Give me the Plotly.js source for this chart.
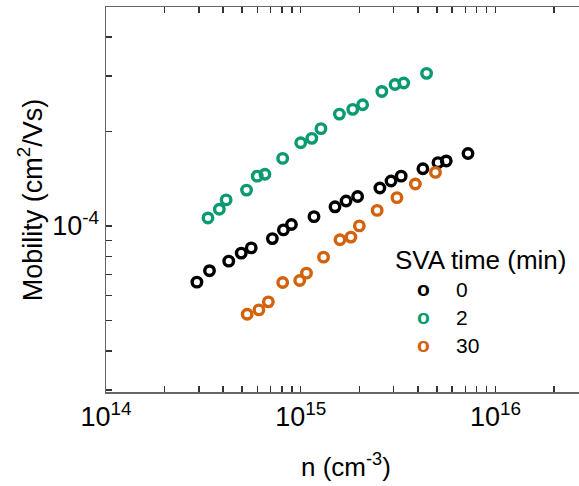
<!DOCTYPE html>
<html>
<head>
<meta charset="utf-8">
<script src="https://cdn.plot.ly/plotly-3.0.1.min.js"></script>
<style>
html,body{margin:0;padding:0;overflow:hidden;background:#fff;}
#chart{width:586px;height:486px;}
</style>
</head>
<body>
<div id="chart"></div>
<script>
// Data (n in cm^-3, mobility in cm^2/Vs)
const n_0   = [2.93e14,3.40e14,4.27e14,4.95e14,5.57e14,7.15e14,8.15e14,8.96e14,1.17e15,1.50e15,1.71e15,1.96e15,2.55e15,2.91e15,3.28e15,4.24e15,5.07e15,5.59e15,7.23e15];
const mu_0  = [6.62e-5,7.20e-5,7.72e-5,8.19e-5,8.51e-5,9.11e-5,9.71e-5,1.01e-4,1.07e-4,1.15e-4,1.20e-4,1.24e-4,1.32e-4,1.39e-4,1.44e-4,1.52e-4,1.59e-4,1.61e-4,1.70e-4];
const n_2   = [3.34e14,3.82e14,4.14e14,5.27e14,5.98e14,6.55e14,8.08e14,1.00e15,1.14e15,1.27e15,1.58e15,1.85e15,2.08e15,2.61e15,3.05e15,3.38e15,4.43e15];
const mu_2  = [1.06e-4,1.13e-4,1.21e-4,1.30e-4,1.44e-4,1.46e-4,1.64e-4,1.84e-4,1.90e-4,2.04e-4,2.27e-4,2.35e-4,2.43e-4,2.68e-4,2.82e-4,2.85e-4,3.06e-4];
const n_30  = [5.31e14,6.10e14,6.82e14,8.08e14,9.88e14,1.07e15,1.31e15,1.59e15,1.81e15,2.00e15,2.47e15,3.12e15,3.88e15,4.92e15];
const mu_30 = [5.23e-5,5.40e-5,5.73e-5,6.60e-5,6.70e-5,7.07e-5,7.95e-5,9.03e-5,9.21e-5,1.00e-4,1.12e-4,1.23e-4,1.36e-4,1.48e-4];
const seriesNames = ['0','2','30'];
const legendTitle = 'SVA time (min)';
const xTitle = 'n (cm<sup>-3</sup>)';
const yTitle = 'Mobility (cm<sup>2</sup>/Vs)';
// tick positions: decades labelled, intermediate ticks unlabelled
const xTickVals = [1e14,2e14,3e14,4e14,5e14,6e14,7e14,8e14,9e14,1e15,2e15,3e15,4e15,5e15,6e15,7e15,8e15,9e15,1e16,2e16,3e16];
const xTickText = ['10<sup>14</sup>','','','','','','','','','10<sup>15</sup>','','','','','','','','','10<sup>16</sup>','',''];
const yTickVals = [3e-5,4e-5,5e-5,6e-5,7e-5,8e-5,9e-5,1e-4,2e-4,3e-4,4e-4];
const yTickText = ['','','','','','','','10<sup>-4</sup>','','',''];

const colors = ['#000000','#0a9a72','#d2620c'];
const FONT = 'Arial, "Liberation Sans", sans-serif';
const xs = [n_0,n_2,n_30], ys = [mu_0,mu_2,mu_30];
const traces = xs.map((x,i)=>({
  x:x, y:ys[i], type:'scatter', mode:'markers', name:seriesNames[i],
  marker:{symbol:'circle-open', size:9.5, color:colors[i], line:{width:3.4, color:colors[i]}}
}));

const legendRows = [0.27, 0.197, 0.124];
const annotations = [
  {text:xTitle, xref:'paper', yref:'paper', x:0.5, y:-0.19, xanchor:'center', yanchor:'middle', showarrow:false,
   font:{family:FONT, size:26, color:'#000'}},
  {text:yTitle, xref:'paper', yref:'paper', x:-0.159, y:0.5, xanchor:'center', yanchor:'middle', textangle:-90, showarrow:false,
   font:{family:FONT, size:27, color:'#000'}},
  {text:legendTitle, xref:'paper', yref:'paper', x:0.6, y:0.343, xanchor:'left', yanchor:'middle', showarrow:false,
   font:{family:FONT, size:26, color:'#000'}}
];
seriesNames.forEach((nm,i)=>{
  annotations.push({text:'<b>o</b>', xref:'paper', yref:'paper', x:0.662, y:legendRows[i], xanchor:'center', yanchor:'middle',
    showarrow:false, font:{family:FONT, size:21, color:colors[i]}});
  annotations.push({text:nm, xref:'paper', yref:'paper', x:0.726, y:legendRows[i]-0.004, xanchor:'left', yanchor:'middle',
    showarrow:false, font:{family:FONT, size:21, color:'#000'}});
});

const layout = {
  width:586, height:486,
  margin:{l:106, r:1, t:7, b:94},
  showlegend:false,
  font:{family:FONT, color:'#000'},
  xaxis:{type:'log', range:[14, 16.46], showgrid:false, zeroline:false,
    tickmode:'array', tickvals:xTickVals, ticktext:xTickText,
    ticks:'inside', ticklen:6, tickwidth:1.5, tickcolor:'#333',
    showline:true, mirror:'allticks', linecolor:'#666', linewidth:1.5,
    tickfont:{family:FONT, size:27, color:'#000'}},
  yaxis:{type:'log', range:[-4.529, -3.303], showgrid:false, zeroline:false,
    tickmode:'array', tickvals:yTickVals, ticktext:yTickText,
    ticks:'inside', ticklen:6, tickwidth:1.5, tickcolor:'#333',
    showline:true, mirror:'allticks', linecolor:'#666', linewidth:1.5,
    tickfont:{family:FONT, size:27, color:'#000'}},
  annotations:annotations
};
Plotly.newPlot('chart', traces, layout, {staticPlot:true});
</script>
</body>
</html>
